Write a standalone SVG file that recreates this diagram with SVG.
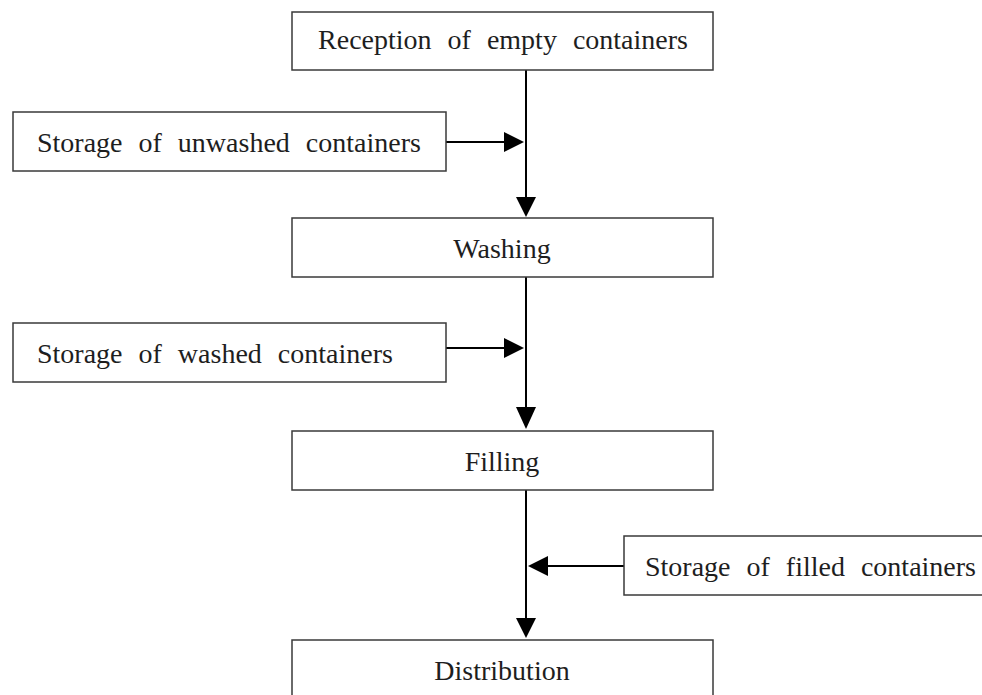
<svg xmlns="http://www.w3.org/2000/svg" width="982" height="695" viewBox="0 0 982 695">
  <defs>
    <style>
      .box { fill: #ffffff; stroke: #3a3a3a; stroke-width: 1.5; }
      .lbl { font-family: "Liberation Serif", "Times New Roman", serif; font-size: 28px; fill: #1e1e1e; word-spacing: 9px; }
      .mid { text-anchor: middle; }
      .conn { stroke: #000000; stroke-width: 2; fill: none; }
      .head { fill: #000000; stroke: none; }
    </style>
  </defs>
  <rect width="982" height="695" fill="#ffffff"/>

  <g id="connectors">
    <line class="conn" x1="526" y1="70" x2="526" y2="200"/>
    <polygon class="head" points="516,197 536,197 526,217"/>
    <line class="conn" x1="446" y1="142" x2="506" y2="142"/>
    <polygon class="head" points="504,132 504,152 524,142"/>

    <line class="conn" x1="526" y1="277" x2="526" y2="410"/>
    <polygon class="head" points="516,407 536,407 526,429"/>
    <line class="conn" x1="446" y1="348" x2="506" y2="348"/>
    <polygon class="head" points="504,338 504,358 524,348"/>

    <line class="conn" x1="526" y1="490" x2="526" y2="620"/>
    <polygon class="head" points="516,618 536,618 526,638"/>
    <line class="conn" x1="546" y1="566" x2="624" y2="566"/>
    <polygon class="head" points="548,556 548,576 528,566"/>
  </g>

  <g id="reception">
    <rect class="box" x="292" y="12" width="421" height="58"/>
    <text class="lbl mid" x="503" y="49">Reception of empty containers</text>
  </g>
  <g id="storage-unwashed">
    <rect class="box" x="13" y="112" width="433" height="59"/>
    <text class="lbl" x="37" y="152">Storage of unwashed containers</text>
  </g>
  <g id="washing">
    <rect class="box" x="292" y="218" width="421" height="59"/>
    <text class="lbl mid" x="502" y="258">Washing</text>
  </g>
  <g id="storage-washed">
    <rect class="box" x="13" y="323" width="433" height="59"/>
    <text class="lbl" x="37" y="363">Storage of washed containers</text>
  </g>
  <g id="filling">
    <rect class="box" x="292" y="431" width="421" height="59"/>
    <text class="lbl mid" x="502" y="471">Filling</text>
  </g>
  <g id="storage-filled">
    <rect class="box" x="624" y="536" width="370" height="59"/>
    <text class="lbl" x="645" y="576">Storage of filled containers</text>
  </g>
  <g id="distribution">
    <rect class="box" x="292" y="640" width="421" height="70"/>
    <text class="lbl mid" x="502" y="680">Distribution</text>
  </g>
</svg>
